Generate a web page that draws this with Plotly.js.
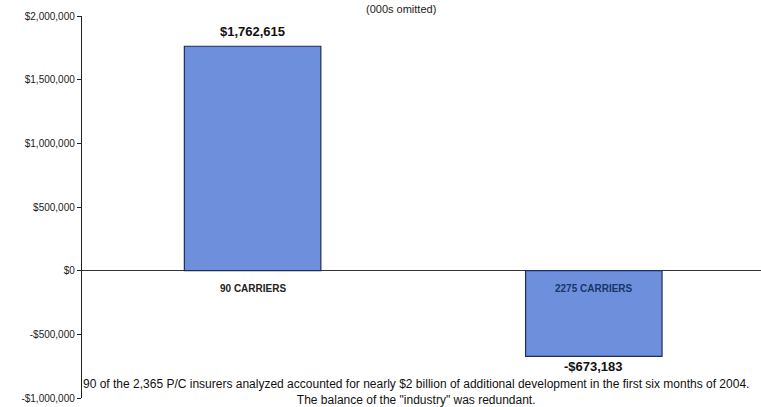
<!DOCTYPE html>
<html>
<head>
<meta charset="utf-8">
<script src="https://cdn.plot.ly/plotly-3.0.1.min.js"></script>
<style>
  html, body { margin: 0; padding: 0; background: #ffffff; }
  #chart { width: 761px; height: 407px; }
</style>
</head>
<body>
<div id="chart"></div>
<script>
const categories = ["90 CARRIERS", "2275 CARRIERS"];
const values = [1762615, -673183];
const valueLabels = ["$1,762,615", "-$673,183"];
const tickValues = [-1000000, -500000, 0, 500000, 1000000, 1500000, 2000000];
const tickLabels = ["-$1,000,000", "-$500,000", "$0", "$500,000", "$1,000,000", "$1,500,000", "$2,000,000"];
const subtitle = "(000s omitted)";
const footnote1 = "90 of the 2,365 P/C insurers analyzed accounted for nearly $2 billion of additional development in the first six months of 2004.";
const footnote2 = "The balance of the \"industry\" was redundant.";

const barColor = "#6d8fdc";
const edgeColor = "#1e2d5a";

const trace = {
  type: "bar",
  x: categories,
  y: values,
  marker: { color: barColor, line: { color: edgeColor, width: 1.2 } },
  hoverinfo: "skip",
  showlegend: false
};

const annotations = [];
values.forEach((v, i) => {
  annotations.push({
    x: categories[i], y: v, xref: "x", yref: "y",
    text: "<b>" + valueLabels[i] + "</b>",
    showarrow: false,
    yanchor: v >= 0 ? "bottom" : "top",
    yshift: v >= 0 ? 6 : -2,
    borderpad: 0,
    font: { family: "Liberation Sans, Arial, sans-serif", size: 13, color: "#111111" }
  });
});
categories.forEach((c, i) => {
  annotations.push({
    x: c, y: 0, xref: "x", yref: "y",
    text: "<b>" + c + "</b>",
    showarrow: false,
    yanchor: "top",
    yshift: -10,
    font: { family: "Liberation Sans, Arial, sans-serif", size: 10, color: values[i] >= 0 ? "#222222" : "#1a3568" }
  });
});
annotations.push({
  x: (401 - 82) / 679, xref: "paper", y: 1, yref: "paper",
  text: subtitle, showarrow: false, yanchor: "bottom", yshift: -1,
  font: { family: "Liberation Sans, Arial, sans-serif", size: 11, color: "#222222" }
});
annotations.push({
  x: (416 - 82) / 679, xref: "paper", y: 0, yref: "paper",
  text: footnote1 + "<br>" + footnote2, showarrow: false,
  xanchor: "center", yanchor: "bottom", yshift: -10, align: "center",
  borderpad: 0,
  font: { family: "Liberation Sans, Arial, sans-serif", size: 12, color: "#111111" }
});

const layout = {
  width: 761, height: 407,
  margin: { l: 82, r: 0, t: 16, b: 9, pad: 0 },
  paper_bgcolor: "#ffffff",
  plot_bgcolor: "#ffffff",
  bargap: 0.6,
  xaxis: {
    type: "category",
    range: [-0.5, 1.49],
    showticklabels: false,
    showgrid: false,
    zeroline: false,
    showline: false,
    ticks: ""
  },
  yaxis: {
    range: [-1000000, 2000000],
    tickvals: tickValues,
    ticktext: tickLabels,
    showgrid: false,
    zeroline: true,
    zerolinecolor: "#333333",
    zerolinewidth: 1.2,
    showline: true,
    linecolor: "#222222",
    linewidth: 1.2,
    ticks: "outside",
    ticklen: 4,
    tickcolor: "#222222",
    tickfont: { family: "Liberation Sans, Arial, sans-serif", size: 10, color: "#222222" }
  },
  annotations: annotations,
  font: { family: "Liberation Sans, Arial, sans-serif" }
};

Plotly.newPlot("chart", [trace], layout, { displayModeBar: false, staticPlot: true });
</script>
</body>
</html>
